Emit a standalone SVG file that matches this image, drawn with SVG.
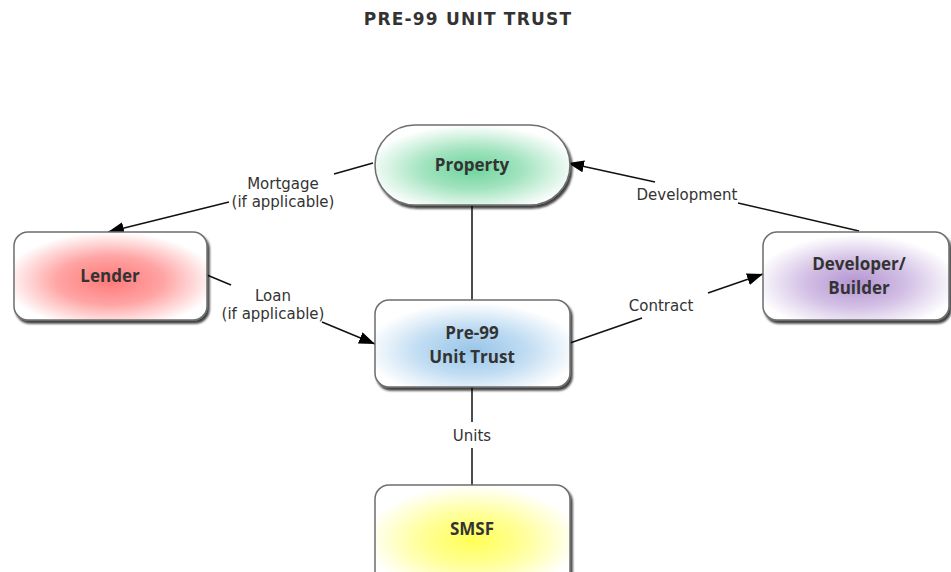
<svg xmlns="http://www.w3.org/2000/svg" width="951" height="572" viewBox="0 0 951 572">
  <defs>
    <style>
      .title { font-family: "DejaVu Sans", Verdana, sans-serif; font-weight: bold; font-size: 17px; fill: #333; letter-spacing: 1.2px; }
      .node-shape { stroke: #6e6e6e; stroke-width: 1.5; filter: url(#shadow); }
      .node-text { font-family: "Open Sans", "Segoe UI", sans-serif; font-weight: bold; font-size: 17px; fill: #333; text-anchor: middle; }
      .edge { stroke: #111; stroke-width: 1.5; fill: none; }
      .edge-label { font-family: "DejaVu Sans", Verdana, sans-serif; font-size: 15px; fill: #333; text-anchor: middle; }
    </style>
    <filter id="shadow" x="-10%" y="-10%" width="125%" height="130%">
      <feDropShadow dx="2" dy="3" stdDeviation="1.2" flood-color="#000" flood-opacity="0.75"/>
    </filter>
    <marker id="arrow" viewBox="0 0 16 12" refX="16" refY="6" markerWidth="16" markerHeight="12" markerUnits="userSpaceOnUse" orient="auto">
      <path d="M0,0 L16,6 L0,12 Z" fill="#000"/>
    </marker>
    <radialGradient id="g-green" cx="50%" cy="55%" r="55%">
      <stop offset="0" stop-color="#6fd49c"/>
      <stop offset="0.45" stop-color="#a0e3be"/>
      <stop offset="1" stop-color="#ffffff"/>
    </radialGradient>
    <radialGradient id="g-red" cx="50%" cy="55%" r="55%">
      <stop offset="0" stop-color="#ff7878"/>
      <stop offset="0.5" stop-color="#ffa4a4"/>
      <stop offset="1" stop-color="#ffffff"/>
    </radialGradient>
    <radialGradient id="g-blue" cx="50%" cy="58%" r="55%">
      <stop offset="0" stop-color="#98c5e9"/>
      <stop offset="0.5" stop-color="#c0dcf2"/>
      <stop offset="1" stop-color="#ffffff"/>
    </radialGradient>
    <radialGradient id="g-purple" cx="50%" cy="58%" r="55%">
      <stop offset="0" stop-color="#b394d1"/>
      <stop offset="0.5" stop-color="#d3c0e5"/>
      <stop offset="1" stop-color="#ffffff"/>
    </radialGradient>
    <radialGradient id="g-yellow" cx="50%" cy="55%" r="55%">
      <stop offset="0" stop-color="#ffff55"/>
      <stop offset="0.5" stop-color="#ffff9c"/>
      <stop offset="1" stop-color="#ffffff"/>
    </radialGradient>
  </defs>

  <rect width="951" height="572" fill="#fff"/>

  <text class="title" x="468" y="25" text-anchor="middle">PRE-99 UNIT TRUST</text>

  <!-- connectors -->
  <g id="connectors">
    <!-- Property -> Lender (Mortgage) -->
    <line class="edge" x1="373" y1="163" x2="334" y2="174"/>
    <line class="edge" x1="229" y1="202" x2="108" y2="232" marker-end="url(#arrow)"/>
    <text class="edge-label" x="283" y="189">Mortgage</text>
    <text class="edge-label" x="283" y="207">(if applicable)</text>

    <!-- Lender -> Trust (Loan) -->
    <line class="edge" x1="207" y1="275" x2="231" y2="285"/>
    <line class="edge" x1="322" y1="322" x2="375" y2="344" marker-end="url(#arrow)"/>
    <text class="edge-label" x="273" y="301">Loan</text>
    <text class="edge-label" x="273" y="319">(if applicable)</text>

    <!-- Property - Trust -->
    <line class="edge" x1="472" y1="205" x2="472" y2="300"/>

    <!-- Developer -> Property (Development) -->
    <line class="edge" x1="859" y1="231" x2="738" y2="203"/>
    <line class="edge" x1="655" y1="182" x2="568" y2="163" marker-end="url(#arrow)"/>
    <text class="edge-label" x="687" y="200">Development</text>

    <!-- Trust -> Developer (Contract) -->
    <line class="edge" x1="570" y1="343" x2="642" y2="318"/>
    <line class="edge" x1="708" y1="293" x2="763" y2="274" marker-end="url(#arrow)"/>
    <text class="edge-label" x="661" y="311">Contract</text>

    <!-- Trust - SMSF (Units) -->
    <line class="edge" x1="472" y1="387" x2="472" y2="422"/>
    <line class="edge" x1="472" y1="448" x2="472" y2="485"/>
    <text class="edge-label" x="472" y="441">Units</text>
  </g>

  <!-- nodes -->
  <g id="node-property">
    <rect class="node-shape" x="375" y="125" width="195" height="80" rx="40" ry="40" fill="url(#g-green)"/>
    <text class="node-text" x="472" y="171">Property</text>
  </g>

  <g id="node-lender">
    <rect class="node-shape" x="14" y="232" width="193" height="88" rx="14" ry="14" fill="url(#g-red)"/>
    <text class="node-text" x="110" y="282">Lender</text>
  </g>

  <g id="node-trust">
    <rect class="node-shape" x="375" y="300" width="195" height="87" rx="14" ry="14" fill="url(#g-blue)"/>
    <text class="node-text" x="472" y="339">Pre-99</text>
    <text class="node-text" x="472" y="363">Unit Trust</text>
  </g>

  <g id="node-developer">
    <rect class="node-shape" x="763" y="232" width="186" height="88" rx="14" ry="14" fill="url(#g-purple)"/>
    <text class="node-text" x="859" y="270">Developer/</text>
    <text class="node-text" x="859" y="294">Builder</text>
  </g>

  <g id="node-smsf">
    <rect class="node-shape" x="375" y="485" width="195" height="100" rx="14" ry="14" fill="url(#g-yellow)"/>
    <text class="node-text" x="472" y="535">SMSF</text>
  </g>
</svg>
